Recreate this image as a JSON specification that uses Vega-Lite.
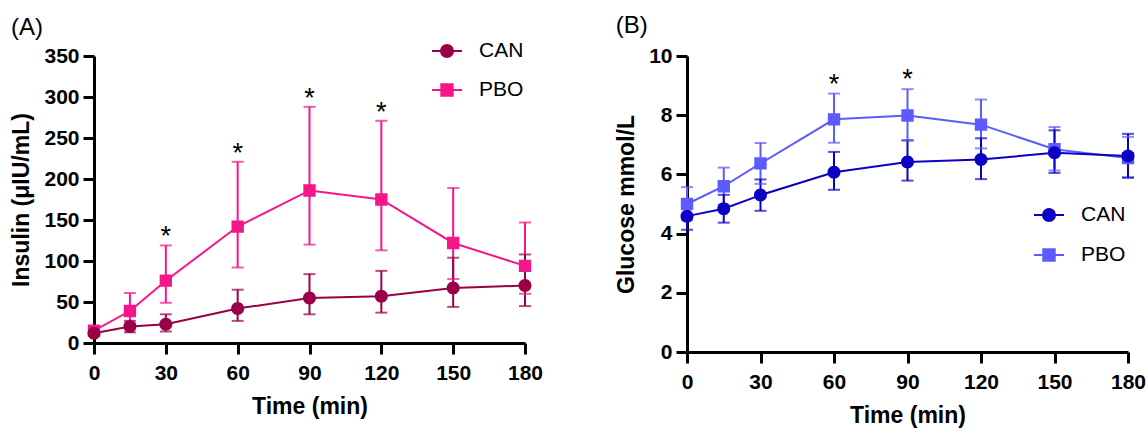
{
  "$schema": "https://vega.github.io/schema/vega-lite/v6.json",
  "background": "white",
  "padding": {"left": 10, "top": 14, "right": 0, "bottom": 5},
  "spacing": 72,
  "config": {
    "view": {"stroke": null},
    "font": "Liberation Sans",
    "axis": {
      "domainColor": "black", "domainWidth": 3, "tickColor": "black", "tickWidth": 3, "tickSize": 11,
      "labelFont": "Liberation Sans", "labelFontSize": 21, "labelFontWeight": "bold", "labelColor": "black",
      "titleFont": "Liberation Sans", "titleFontSize": 23, "titleFontWeight": "bold", "titleColor": "black",
      "grid": false, "labelFlush": false
    },
    "axisY": {"labelPadding": 4, "titlePadding": 10},
    "axisX": {"labelPadding": 8, "titlePadding": 12},
    "title": {"fontSize": 24, "fontWeight": "normal", "anchor": "start", "frame": "bounds", "color": "black", "font": "Liberation Sans"}
  },
  "resolve": {"scale": {"color": "independent", "shape": "independent", "x": "independent", "y": "independent"}},
  "hconcat": [
    {
      "title": {"text": "(A)", "offset": -5},
      "width": 431,
      "height": 287,
      "data": {"values": [
        {"time": 0, "group": "PBO", "mean": 15, "lo": 11, "hi": 19, "star": ""},
        {"time": 15, "group": "PBO", "mean": 39, "lo": 24, "hi": 61, "star": ""},
        {"time": 30, "group": "PBO", "mean": 76, "lo": 49, "hi": 119, "star": "*"},
        {"time": 60, "group": "PBO", "mean": 142, "lo": 92, "hi": 221, "star": "*"},
        {"time": 90, "group": "PBO", "mean": 186, "lo": 120, "hi": 288, "star": "*"},
        {"time": 120, "group": "PBO", "mean": 175, "lo": 113, "hi": 271, "star": "*"},
        {"time": 150, "group": "PBO", "mean": 122, "lo": 78, "hi": 189, "star": ""},
        {"time": 180, "group": "PBO", "mean": 94, "lo": 60, "hi": 147, "star": ""},
        {"time": 0, "group": "CAN", "mean": 12, "lo": 9, "hi": 16, "star": ""},
        {"time": 15, "group": "CAN", "mean": 20, "lo": 13, "hi": 27, "star": ""},
        {"time": 30, "group": "CAN", "mean": 23, "lo": 14, "hi": 35, "star": ""},
        {"time": 60, "group": "CAN", "mean": 42, "lo": 27, "hi": 65, "star": ""},
        {"time": 90, "group": "CAN", "mean": 55, "lo": 35, "hi": 84, "star": ""},
        {"time": 120, "group": "CAN", "mean": 57, "lo": 37, "hi": 88, "star": ""},
        {"time": 150, "group": "CAN", "mean": 67, "lo": 44, "hi": 104, "star": ""},
        {"time": 180, "group": "CAN", "mean": 70, "lo": 45, "hi": 108, "star": ""}
      ]},
      "encoding": {
        "x": {"field": "time", "type": "quantitative", "scale": {"domain": [0, 180], "nice": false, "zero": false},
              "axis": {"values": [0, 30, 60, 90, 120, 150, 180], "title": "Time (min)"}},
        "color": {"field": "group", "type": "nominal", "scale": {"domain": ["CAN", "PBO"], "range": ["#990047", "#f5168a"]},
             "legend": {"orient": "none", "legendX": 337, "legendY": -21, "title": null, "symbolSize": 900,
               "labelFontSize": 21, "labelFont": "Liberation Sans", "labelColor": "black", "labelOffset": 16, "rowPadding": 13, "padding": 0,
               "symbolStrokeWidth": 2,
               "symbolStrokeColor": {"expr": "datum.value === 'CAN' ? '#b8407a' : '#f5409f'"},
               "encode": {"symbols": {"update": {
                 "stroke": {"signal": "datum.value === 'CAN' ? '#b8407a' : '#f5409f'"},
                 "strokeWidth": {"value": 2}
               }}}}}
      },
      "layer": [
        {"mark": {"type": "rule", "strokeWidth": 2},
         "encoding": {"y": {"field": "lo", "type": "quantitative", "scale": {"domain": [0, 350], "nice": false},
                            "axis": {"values": [0, 50, 100, 150, 200, 250, 300, 350], "title": "Insulin (μIU/mL)"}},
                      "y2": {"field": "hi"}}},
        {"mark": {"type": "tick", "orient": "horizontal", "thickness": 2, "size": 12},
         "encoding": {"y": {"field": "hi", "type": "quantitative"}}},
        {"mark": {"type": "tick", "orient": "horizontal", "thickness": 2, "size": 12},
         "encoding": {"y": {"field": "lo", "type": "quantitative"}}},
        {"mark": {"type": "line", "strokeWidth": 2},
         "encoding": {"y": {"field": "mean", "type": "quantitative"}}},
        {"mark": {"type": "point", "filled": true, "opacity": 1, "size": 1056},
         "encoding": {
           "y": {"field": "mean", "type": "quantitative"},
           "shape": {"field": "group", "type": "nominal", "scale": {"domain": ["CAN", "PBO"],
             "range": ["M-1,0H1M0.4,0A0.4,0.4,0,1,1,-0.4,0A0.4,0.4,0,1,1,0.4,0Z", "M-1,0H1M-0.38,-0.38H0.38V0.38H-0.38Z"]}, "legend": null}
         }},
        {"transform": [{"filter": "datum.star === '*'"}],
         "mark": {"type": "text", "fontSize": 27, "baseline": "alphabetic", "align": "center", "dy": 0, "font": "Liberation Sans"},
         "encoding": {"y": {"field": "hi", "type": "quantitative"}, "text": {"field": "star"}, "color": {"value": "black"}}}
      ]
    },
    {
      "title": {"text": "(B)", "offset": 7},
      "width": 441,
      "height": 296,
      "data": {"values": [
        {"time": 0, "group": "PBO", "mean": 5.0, "lo": 4.45, "hi": 5.57, "star": ""},
        {"time": 15, "group": "PBO", "mean": 5.6, "lo": 4.98, "hi": 6.23, "star": ""},
        {"time": 30, "group": "PBO", "mean": 6.37, "lo": 5.68, "hi": 7.06, "star": ""},
        {"time": 60, "group": "PBO", "mean": 7.86, "lo": 7.07, "hi": 8.73, "star": "*"},
        {"time": 90, "group": "PBO", "mean": 7.99, "lo": 7.15, "hi": 8.88, "star": "*"},
        {"time": 120, "group": "PBO", "mean": 7.68, "lo": 6.88, "hi": 8.53, "star": ""},
        {"time": 150, "group": "PBO", "mean": 6.85, "lo": 6.13, "hi": 7.6, "star": ""},
        {"time": 180, "group": "PBO", "mean": 6.55, "lo": 5.88, "hi": 7.27, "star": ""},
        {"time": 0, "group": "CAN", "mean": 4.59, "lo": 4.13, "hi": 5.05, "star": ""},
        {"time": 15, "group": "CAN", "mean": 4.84, "lo": 4.37, "hi": 5.31, "star": ""},
        {"time": 30, "group": "CAN", "mean": 5.3, "lo": 4.77, "hi": 5.83, "star": ""},
        {"time": 60, "group": "CAN", "mean": 6.07, "lo": 5.48, "hi": 6.76, "star": ""},
        {"time": 90, "group": "CAN", "mean": 6.42, "lo": 5.79, "hi": 7.15, "star": ""},
        {"time": 120, "group": "CAN", "mean": 6.5, "lo": 5.84, "hi": 7.22, "star": ""},
        {"time": 150, "group": "CAN", "mean": 6.73, "lo": 6.05, "hi": 7.49, "star": ""},
        {"time": 180, "group": "CAN", "mean": 6.62, "lo": 5.9, "hi": 7.37, "star": ""}
      ]},
      "encoding": {
        "x": {"field": "time", "type": "quantitative", "scale": {"domain": [0, 180], "nice": false, "zero": false},
              "axis": {"values": [0, 30, 60, 90, 120, 150, 180], "title": "Time (min)"}},
        "color": {"field": "group", "type": "nominal", "scale": {"domain": ["CAN", "PBO"], "range": ["#0c00c4", "#5b5bff"]},
             "legend": {"orient": "none", "legendX": 346, "legendY": 143, "title": null, "symbolSize": 900,
               "labelFontSize": 21, "labelFont": "Liberation Sans", "labelColor": "black", "labelOffset": 16, "rowPadding": 14, "padding": 0,
               "symbolStrokeWidth": 2,
               "symbolStrokeColor": {"expr": "datum.value === 'CAN' ? '#0c00c4' : '#5b5bff'"},
               "encode": {"symbols": {"update": {
                 "stroke": {"signal": "datum.value === 'CAN' ? '#0c00c4' : '#5b5bff'"},
                 "strokeWidth": {"value": 2}
               }}}}}
      },
      "layer": [
        {"mark": {"type": "rule", "strokeWidth": 2},
         "encoding": {"y": {"field": "lo", "type": "quantitative", "scale": {"domain": [0, 10], "nice": false},
                            "axis": {"values": [0, 1, 2, 3, 4, 5, 6, 7, 8, 9, 10], "title": "Glucose mmol/L",
                                     "labelExpr": "datum.value % 2 === 0 ? datum.label : ''",
                                     "tickSize": {"condition": {"test": "datum.value % 2 === 1", "value": 6}, "value": 11}}},
                      "y2": {"field": "hi"}}},
        {"mark": {"type": "tick", "orient": "horizontal", "thickness": 2, "size": 12},
         "encoding": {"y": {"field": "hi", "type": "quantitative"}}},
        {"mark": {"type": "tick", "orient": "horizontal", "thickness": 2, "size": 12},
         "encoding": {"y": {"field": "lo", "type": "quantitative"}}},
        {"mark": {"type": "line", "strokeWidth": 2},
         "encoding": {"y": {"field": "mean", "type": "quantitative"}}},
        {"mark": {"type": "point", "filled": true, "opacity": 1, "size": 1056},
         "encoding": {
           "y": {"field": "mean", "type": "quantitative"},
           "shape": {"field": "group", "type": "nominal", "scale": {"domain": ["CAN", "PBO"],
             "range": ["M-1,0H1M0.4,0A0.4,0.4,0,1,1,-0.4,0A0.4,0.4,0,1,1,0.4,0Z", "M-1,0H1M-0.38,-0.38H0.38V0.38H-0.38Z"]}, "legend": null}
         }},
        {"transform": [{"filter": "datum.star === '*'"}],
         "mark": {"type": "text", "fontSize": 27, "baseline": "alphabetic", "align": "center", "dy": -1, "font": "Liberation Sans"},
         "encoding": {"y": {"field": "hi", "type": "quantitative"}, "text": {"field": "star"}, "color": {"value": "black"}}}
      ]
    }
  ]
}
